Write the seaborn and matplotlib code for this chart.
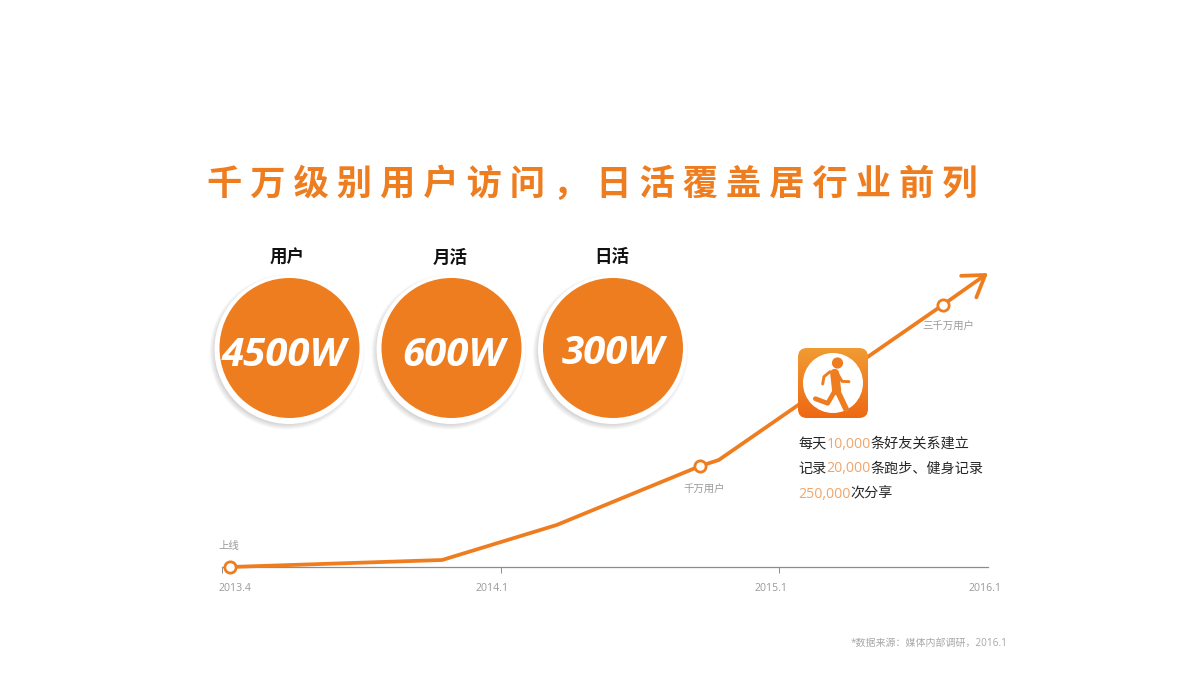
import numpy as np
import matplotlib
matplotlib.use("Agg")
import matplotlib.pyplot as plt
from matplotlib.patches import Circle, FancyBboxPatch
from matplotlib.transforms import ScaledTranslation
import seaborn as sns

# ---- data ----
title = "千 万 级 别 用 户 访 问 ， 日 活 覆 盖 居 行 业 前 列"
stat_names = ["用户", "月活", "日活"]
stat_values = ["4500W", "600W", "300W"]
months_since_launch = [0.26, 7.1, 11.4, 17.6, 18.4, 30.4, 33.0]
growth_height = [0, 7, 42, 101, 107, 262, 294]
milestone_months = [0.26, 17.6, 30.4]
milestone_height = [0, 101, 262]
milestone_labels = ["上线", "千万用户", "三千万用户"]
tick_months = [0, 9, 21, 33]
tick_labels = ["2013.4", "2014.1", "2015.1", "2016.1"]
facts = [
    [("每天", 0), ("10,000", 1), ("条好友关系建立", 0)],
    [("记录", 0), ("20,000", 1), ("条跑步、健身记录", 0)],
    [("250,000", 1), ("次分享", 0)],
]
source = "*数据来源：媒体内部调研，2016.1"

ORANGE = "#EE7D20"
LIGHT = "#F2A469"
GREY = "#9A9A9A"

sns.set_theme(style="white")
plt.rcParams["font.family"] = ["Open Sans", "Noto Sans CJK SC", "DejaVu Sans"]
CJK = ["Noto Sans CJK SC", "DejaVu Sans"]
MIX = ["Open Sans", "Noto Sans CJK SC"]

fig = plt.figure(figsize=(12, 6.75), dpi=100, facecolor="white")

# ---- chart axes: baseline at y=567 px, x from 222 to 988 px ----
ax = fig.add_axes([222 / 1200, (675 - 567) / 675, 766 / 1200, 294 / 675], facecolor="none")
anchor_m, anchor_p = [0, 9, 21, 33], [0, 279, 557, 766]
ax.set_xscale("function", functions=(lambda v: np.interp(v, anchor_m, anchor_p),
                                     lambda v: np.interp(v, anchor_p, anchor_m)))
sns.lineplot(x=months_since_launch[:-1], y=growth_height[:-1], ax=ax, sort=False, estimator=None,
             color=ORANGE, linewidth=2.7, clip_on=False, solid_joinstyle="round", zorder=3)
ax.annotate("", xy=(months_since_launch[-1], growth_height[-1]),
            xytext=(months_since_launch[-2], growth_height[-2]),
            arrowprops=dict(arrowstyle="->,head_length=14.5,head_width=9.5", color=ORANGE,
                            lw=2.7, shrinkA=0, shrinkB=0, mutation_scale=1), annotation_clip=False, zorder=3)
sns.scatterplot(x=milestone_months, y=milestone_height, ax=ax, s=66, color="white", edgecolor=ORANGE,
                linewidth=2.0, clip_on=False, zorder=4, legend=False)
ax.set_xlim(0, 33)
ax.set_ylim(0, 294)
ax.set_yticks([])
ax.set_xticks(tick_months, tick_labels)
ax.set_xlabel("")
ax.set_ylabel("")
for s in ["top", "left", "right"]:
    ax.spines[s].set_visible(False)
ax.spines["bottom"].set_color("#8C8C8C")
ax.spines["bottom"].set_linewidth(0.9)
ax.tick_params(axis="x", bottom=True, length=4.3, width=0.7, color="#8C8C8C", pad=7,
               labelsize=7.6, labelcolor=GREY)
shifts = [13, -9, -8, -3]
for tk, dx in zip(ax.xaxis.get_major_ticks(), shifts):
    tk.label1.set_transform(tk.label1.get_transform() + ScaledTranslation(dx / 100, 0, fig.dpi_scale_trans))
ax.xaxis.get_major_ticks()[-1].tick1line.set_visible(False)

label_offsets = [(-1, 21), (4, -23), (6, -21)]
for m, h, lab, (dx, dy) in zip(milestone_months, milestone_height, milestone_labels, label_offsets):
    ax.annotate(lab, (m, h), xytext=(dx * 0.72, dy * 0.72), textcoords="offset points", ha="center",
                va="center", fontsize=7.5, color=GREY, family=CJK, annotation_clip=False)

# ---- overlay in pixel coordinates ----
ov = fig.add_axes([0, 0, 1, 1], facecolor="none", zorder=5)
ov.set_xlim(0, 1200)
ov.set_ylim(675, 0)
ov.axis("off")

ov.text(592.5, 184, title, ha="center", va="center", fontsize=25.4, color=ORANGE,
        fontweight="bold", family=CJK)

centers = [289.5, 451.5, 613.0]
head_x = [287, 450, 612]
val_x = [284, 453, 613]
val_y = [356, 356, 354]
for cx, hx, vx, vy, name, val in zip(centers, head_x, val_x, val_y, stat_names, stat_values):
    for k in range(7):
        ov.add_patch(Circle((cx - 2.5, 352), 77.5 - k, fc="#000000", ec="none", alpha=0.028))
    ov.add_patch(Circle((cx - 0.5, 349.5), 74.5, fc="white", ec="none"))
    ov.add_patch(Circle((cx, 348), 70, fc=ORANGE, ec="none"))
    ov.text(hx, 257.5, name, ha="center", va="center", fontsize=12.6, fontweight="bold",
            color="#111111", family=CJK)
    ov.text(vx, vy, val, ha="center", va="center", fontsize=29, fontweight="bold", style="italic",
            color="white", family="Open Sans")

# ---- app icon ----
box = FancyBboxPatch((798 + 9, 348 + 9), 52, 52, boxstyle="round,pad=9,rounding_size=9",
                     fc="none", ec="none")
ov.add_patch(box)
grad = np.linspace(0, 1, 100)[:, None]
c1, c2 = np.array([0xF1, 0x9C, 0x33]) / 255, np.array([0xEE, 0x68, 0x14]) / 255
img = (c1[None, None, :] * (1 - grad[..., None]) + c2[None, None, :] * grad[..., None])
im = ov.imshow(img, extent=(798, 868.5, 418.5, 348), aspect="auto", zorder=6)
im.set_clip_path(box)
ov.set_xlim(0, 1200)
ov.set_ylim(675, 0)
ov.add_patch(Circle((833, 383), 30, fc="white", ec="none", zorder=7))


def stroke(pts, lw, col=ORANGE):
    xs = [780 + p[0] / 3 for p in pts]
    ys = [260 + p[1] / 3 for p in pts]
    ov.plot(xs, ys, color=col, lw=lw, solid_capstyle="round", solid_joinstyle="round", zorder=8)


ov.add_patch(Circle((837.5, 363), 5.6, fc=ORANGE, ec="none", zorder=8))
stroke([(164, 340), (170, 392)], 6.5)
stroke([(150, 335), (132, 350), (128, 372)], 2.1)
stroke([(175, 345), (186, 364), (207, 365)], 2.1)
stroke([(165, 392), (143, 430), (106, 416)], 3.4)
stroke([(172, 392), (198, 447)], 4.2)

# ---- facts with coloured numbers ----
fig.canvas.draw()
rend = fig.canvas.get_renderer()
for line, y in zip(facts, [447.5, 472.5, 497.5]):
    x = 798
    for seg, hi in line:
        t = ov.text(x, y, seg, ha="left", va="baseline", fontsize=10.15, family=MIX,
                    color=LIGHT if hi else "#262626")
        x = ov.transData.inverted().transform(t.get_window_extent(rend).get_points())[1, 0]

ov.text(851, 643, source, ha="left", va="center", fontsize=7.2, color="#A8A8A8", family=MIX)

fig.savefig("out.png", dpi=100)
